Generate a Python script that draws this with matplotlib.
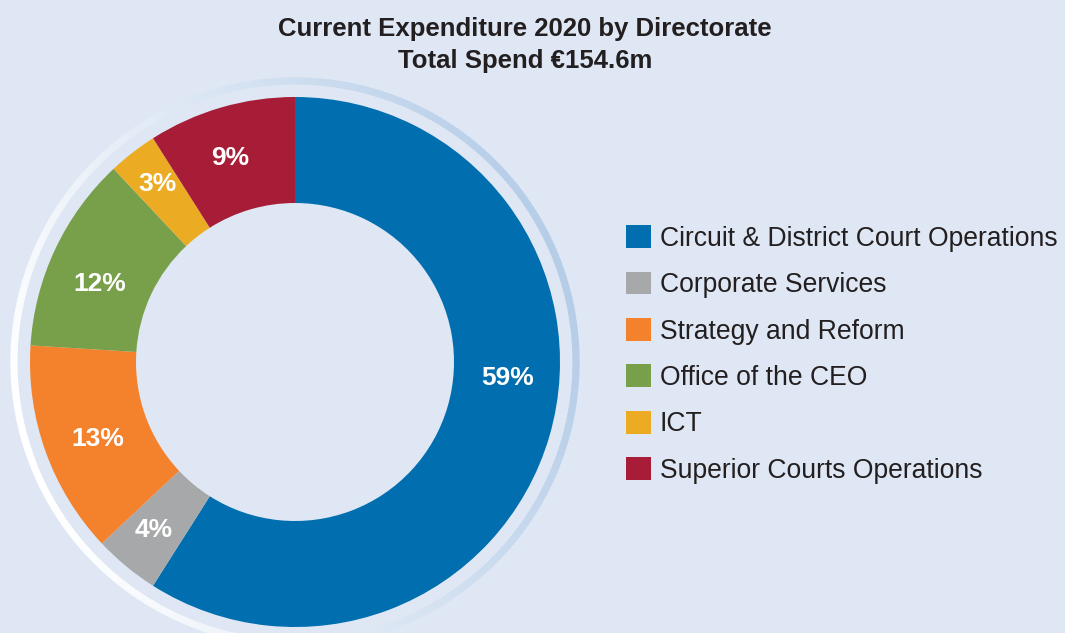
import numpy as np
import matplotlib
matplotlib.use("Agg")
import matplotlib.pyplot as plt
from matplotlib.patches import Wedge
from matplotlib.colors import to_rgb

# ---- data ----
categories = ["Circuit & District Court Operations", "Corporate Services",
              "Strategy and Reform", "Office of the CEO", "ICT",
              "Superior Courts Operations"]
shares = [59, 4, 13, 12, 3, 9]
colors = ["#006eaf", "#a7a8aa", "#f4812c", "#789f4a", "#ebab23", "#a71c36"]
title_line1 = "Current Expenditure 2020 by Directorate"
title_line2 = "Total Spend €154.6m"

# label placement tweaks (degrees of rotation from wedge centre, radius)
label_shift_deg = [11.9, -0.4, 1.5, 3.5, -0.2, 1.5]
label_radius = [0.805, 0.83, 0.80, 0.795, 0.85, 0.81]

BG = "#dee7f3"
W, H = 1065, 633
plt.rcParams['font.family'] = ['Liberation Sans', 'DejaVu Sans']

fig = plt.figure(figsize=(W / 100, H / 100), dpi=100)
fig.patch.set_facecolor(BG)
ax = fig.add_axes([0, 0, 1, 1])
ax.set_facecolor(BG)
cx, cy, R = 295, 362, 265

# decorative gradient halo ring
white = np.array(to_rgb("#ffffff"))
blue = np.array(to_rgb("#b6cde8"))
n = 360
for i in range(n):
    a0 = i * 360 / n
    a1 = a0 + 360 / n + 0.3
    mid = np.deg2rad((a0 + a1) / 2)
    t = (1 + np.cos(mid - np.deg2rad(20))) / 2
    c = white * (1 - t) + blue * t
    ax.add_patch(Wedge((0, 0), 1.074, a0, a1, width=0.027, facecolor=c,
                       edgecolor='none', zorder=1))

wedges, _, autotexts = ax.pie(
    shares, colors=colors, startangle=90, counterclock=False, radius=1.0,
    autopct=lambda p: f"{p:.0f}%", pctdistance=0.8,
    wedgeprops=dict(width=0.4, linewidth=0),
    textprops=dict(color='white', fontsize=19, fontweight='bold'))
for w in wedges:
    w.set_zorder(2)
for w, t, dshift, r in zip(wedges, autotexts, label_shift_deg, label_radius):
    t.set_zorder(3)
    ang = np.deg2rad((w.theta1 + w.theta2) / 2 + dshift)
    t.set_position((r * np.cos(ang), r * np.sin(ang)))

ax.set_xlim(-cx / R, (W - cx) / R)
ax.set_ylim(-(H - cy) / R, cy / R)
ax.set_aspect('equal')
ax.axis('off')

leg = ax.legend(wedges, categories, loc='center left',
                bbox_to_anchor=(626 / W, 1 - 354.5 / H),
                bbox_transform=fig.transFigure, frameon=False,
                fontsize=19.1, handlelength=0.94, handleheight=0.94,
                handletextpad=0.33, labelspacing=0.75, borderpad=0,
                borderaxespad=0)
for txt in leg.get_texts():
    txt.set_color('#231f20')

fig.text(525 / W, 1 - 36 / H, title_line1, ha='center', va='baseline',
         fontsize=18.5, fontweight='bold', color='#231f20')
fig.text(525 / W, 1 - 68 / H, title_line2, ha='center', va='baseline',
         fontsize=18.5, fontweight='bold', color='#231f20')

fig.savefig("out.png", dpi=100, facecolor=BG)
